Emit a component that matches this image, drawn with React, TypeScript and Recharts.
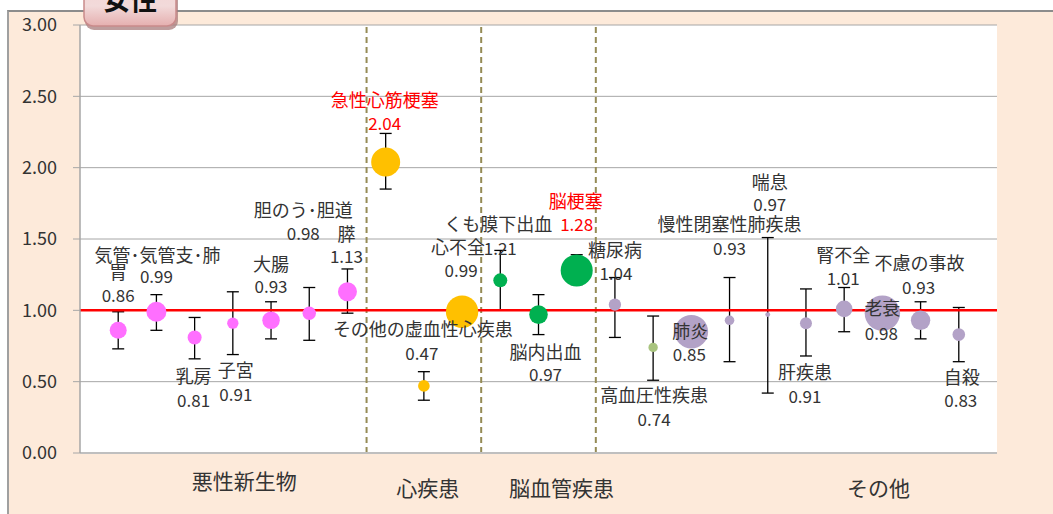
import React from 'react';
import {
  ScatterChart,
  Scatter,
  XAxis,
  YAxis,
  ZAxis,
  CartesianGrid,
  ReferenceLine,
  ErrorBar,
} from 'recharts';

// ---------- data ----------
const causes = [
  '胃',
  '気管･気管支･肺',
  '乳房',
  '子宮',
  '大腸',
  '胆のう･胆道',
  '膵',
  '急性心筋梗塞',
  'その他の虚血性心疾患',
  '心不全',
  'くも膜下出血',
  '脳内出血',
  '脳梗塞',
  '糖尿病',
  '高血圧性疾患',
  '肺炎',
  '慢性閉塞性肺疾患',
  '喘息',
  '肝疾患',
  '腎不全',
  '老衰',
  '不慮の事故',
  '自殺',
];
const ratio = [0.86, 0.99, 0.81, 0.91, 0.93, 0.98, 1.13, 2.04, 0.47, 0.99, 1.21, 0.97, 1.28, 1.04, 0.74, 0.85, 0.93, 0.97, 0.91, 1.01, 0.98, 0.93, 0.83];
const ciLower = [0.73, 0.86, 0.66, 0.69, 0.8, 0.79, 0.98, 1.85, 0.37, 0.93, 1.0, 0.83, 1.18, 0.81, 0.51, 0.79, 0.64, 0.42, 0.68, 0.85, 0.93, 0.8, 0.64];
const ciUpper = [0.99, 1.11, 0.95, 1.13, 1.06, 1.16, 1.29, 2.24, 0.57, 1.05, 1.42, 1.11, 1.39, 1.23, 0.96, 0.91, 1.23, 1.51, 1.15, 1.16, 1.03, 1.06, 1.02];
const weight = [72, 100, 49, 32, 77, 45, 90, 210, 34, 262, 49, 86, 256, 38, 22, 282, 23, 6, 36, 69, 313, 94, 40];

const groupNames = ['悪性新生物', '心疾患', '脳血管疾患', 'その他'];
const groupSizes = [7, 3, 3, 10];
const highlighted = ['急性心筋梗塞', '脳梗塞'];
const yTicks = [0, 0.5, 1, 1.5, 2, 2.5, 3];
const baseline = 1;

// ---------- layout / style ----------
const groupLabelAt = [4.3, 9.1, 12.6, 20.9];
const groupLabelDy = [27, 34, 34, 34];
const groupColors = ['#FF6FFF', '#FFC000', '#00B050', '#B3A2C7'];
const colorOverride: Record<string, string> = { 高血圧性疾患: '#A9C47F' };
// [nameDx, nameDy, valueDx, valueDy] relative to bubble centre
const labelLayout: number[][] = [
  [0, -59, 0, -36],
  [1, -58, 0, -36],
  [-1, 38, -1, 62],
  [3, 46, 3, 70],
  [0, -57, 0, -35],
  [-6, -104, -6, -81],
  [-1, -59, -1, -36],
  [-1, -63, -1, -39],
  [-1, -58, -2, -33],
  [-4, -66, -1, -42],
  [-2, -57, 0, -33],
  [7, 36, 7, 59],
  [-1, -70, 0, -47],
  [0, -56, 1, -32],
  [1, 47, 1, 71],
  [-1, -2, -2, 22],
  [0, -97, 0, -73],
  [2, -134, 2, -111],
  [-1, 48, -1, 72],
  [-1, -55, -1, -31],
  [0, -6, -1, 19],
  [-1, -58, -2, -34],
  [3, 41, 2, 65],
];

const FONT = '"Noto Sans CJK JP", "Noto Sans", sans-serif';
const TEXT = '#333333';

const groupIndex = (i: number) => {
  let acc = 0;
  for (let g = 0; g < groupSizes.length; g++) {
    acc += groupSizes[g];
    if (i < acc) return g;
  }
  return groupSizes.length - 1;
};

const boundaries = groupSizes.slice(0, -1).map((_, g) =>
  groupSizes.slice(0, g + 1).reduce((a, b) => a + b, 0) + 0.5
);

const data = causes.map((name, i) => ({
  name,
  idx: i,
  x: i + 1,
  y: ratio[i],
  z: weight[i],
  err: [+(ratio[i] - ciLower[i]).toFixed(3), +(ciUpper[i] - ratio[i]).toFixed(3)],
  color: colorOverride[name] || groupColors[groupIndex(i)],
}));

const Bubble = (props: any) => {
  const { cx, cy, payload } = props;
  const r = props.width ? props.width / 2 : Math.sqrt((props.size || 0) / Math.PI);
  return <circle cx={cx} cy={cy} r={r} fill={payload.color} />;
};

const Labels = (props: any) => {
  const { cx, cy, payload } = props;
  const [nx, ny, vx, vy] = labelLayout[payload.idx];
  const red = highlighted.includes(payload.name);
  const fill = red ? '#FF0000' : TEXT;
  return (
    <g>
      <text x={cx + nx} y={cy + ny} textAnchor="middle" dominantBaseline="central" fontSize={18} fontFamily={FONT} fill={fill}>
        {payload.name}
      </text>
      <text x={cx + vx} y={cy + vy} textAnchor="middle" dominantBaseline="central" fontSize={17} fontFamily={FONT} fill={fill}>
        {payload.y.toFixed(2)}
      </text>
    </g>
  );
};

const GroupTick = (props: any) => {
  const { x, y, index } = props;
  return (
    <text x={x} y={y + groupLabelDy[index]} textAnchor="middle" dominantBaseline="central" fontSize={21} fontFamily={FONT} fill={TEXT}>
      {groupNames[index]}
    </text>
  );
};

const Tab = () => (
  <svg width={200} height={40} style={{ position: 'absolute', left: 0, top: 0, overflow: 'visible' }}>
    <defs>
      <linearGradient id="tabg" x1="0" y1="0" x2="0" y2="1">
        <stop offset="0" stopColor="#F4D2D2" />
        <stop offset="0.6" stopColor="#F2DADA" />
        <stop offset="1" stopColor="#E5AFAF" />
      </linearGradient>
    </defs>
    <rect x={85} y={-22} width={93} height={52} rx={9} fill="#A87C7C" opacity={0.75} />
    <rect x={84} y={-24} width={92} height={50} rx={9} fill="url(#tabg)" stroke="#C98A8B" strokeWidth={1.5} />
    <text x={130} y={10} textAnchor="middle" fontSize={27} fontWeight="bold" fontFamily={FONT} fill="#111">
      女性
    </text>
  </svg>
);

export default function App() {
  return (
    <div style={{ position: 'absolute', left: 0, top: 0, width: 1053, height: 514, background: '#fff', overflow: 'hidden' }}>
      <div
        style={{
          position: 'absolute',
          left: 7,
          top: 10,
          width: 1046,
          height: 504,
          background: '#FDEADA',
          borderTop: '2px solid #8C8C8C',
          borderLeft: '2px solid #A0A0A0',
          boxSizing: 'border-box',
        }}
      />
      <div style={{ position: 'absolute', left: 0, top: 0 }}>
        <ScatterChart width={1053} height={514} margin={{ top: 25, right: 56, bottom: 0, left: 0 }}>
          <CartesianGrid vertical={false} stroke="#A6A6A6" fill="#FFFFFF" fillOpacity={1} />
          <XAxis
            type="number"
            dataKey="x"
            domain={[0, 24]}
            ticks={groupLabelAt}
            tick={<GroupTick />}
            tickLine={false}
            tickSize={0}
            tickMargin={0}
            height={61}
            interval={0}
            axisLine={{ stroke: '#BFBFBF', strokeWidth: 2 }}
            allowDataOverflow
          />
          <YAxis
            type="number"
            dataKey="y"
            domain={[0, 3]}
            ticks={yTicks}
            width={80}
            tickFormatter={(v: number) => v.toFixed(2)}
            tick={{ fill: TEXT, fontSize: 18, fontFamily: FONT }}
            tickSize={7}
            tickMargin={16}
            tickLine={{ stroke: '#A6A6A6' }}
            axisLine={{ stroke: '#A6A6A6', strokeWidth: 1.5 }}
            allowDataOverflow
          />
          <ZAxis type="number" dataKey="z" domain={[0, 400]} range={[0, 400 * Math.PI]} />
          {boundaries.map((b) => (
            <ReferenceLine key={b} x={b} stroke="#958B55" strokeWidth={2} strokeDasharray="6 4" />
          ))}
          <Scatter data={data} shape={<Bubble />} isAnimationActive={false}>
            <ErrorBar dataKey="err" direction="y" width={6} stroke="#000" strokeWidth={1.3} isAnimationActive={false} />
          </Scatter>
          <ReferenceLine y={baseline} stroke="#FF0000" strokeWidth={2.5} />
          <Scatter data={data} shape={<Labels />} isAnimationActive={false} />
        </ScatterChart>
      </div>
      <Tab />
    </div>
  );
}
